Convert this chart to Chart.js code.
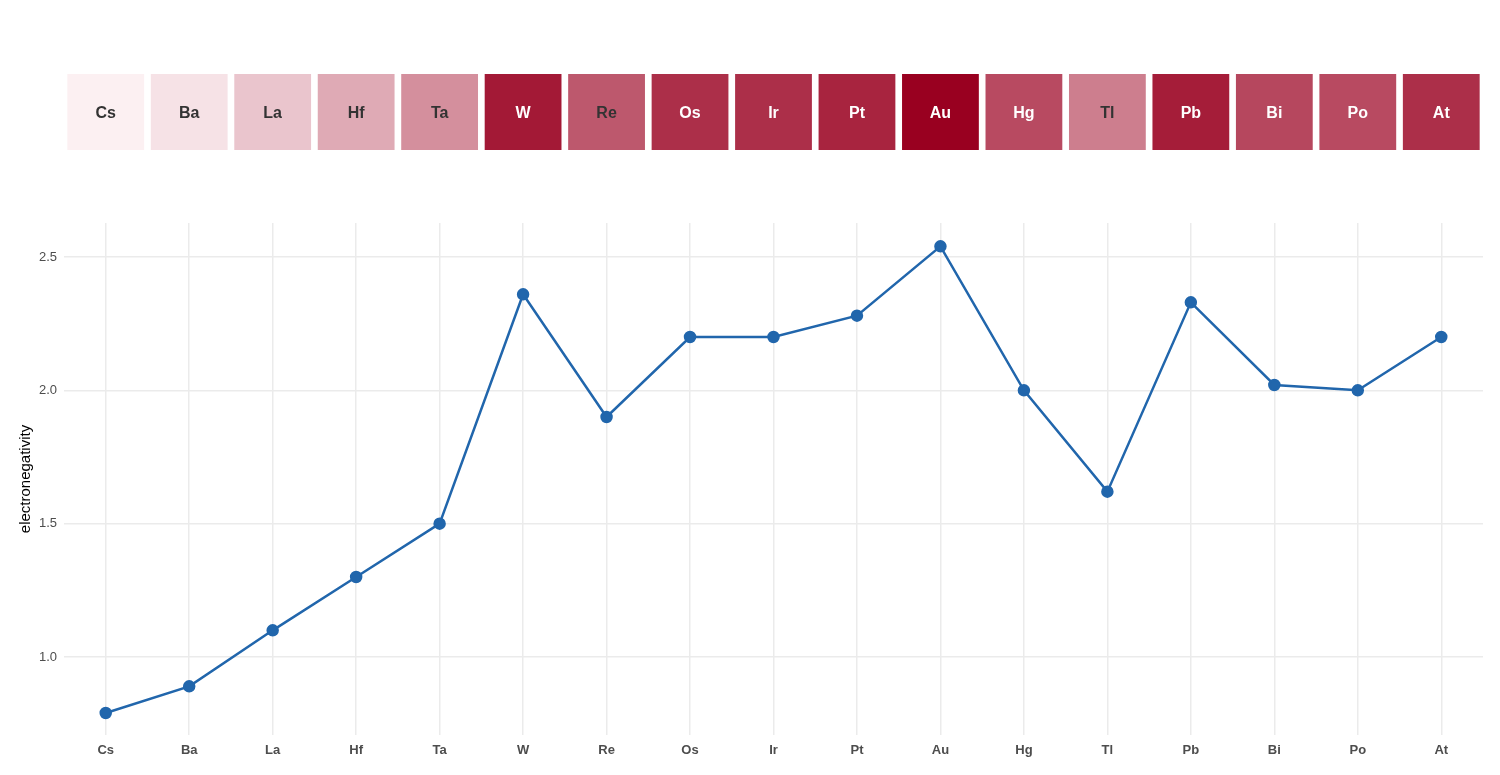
<!DOCTYPE html>
<html>
<head>
<meta charset="utf-8">
<script src="https://cdn.jsdelivr.net/npm/chart.js@4"></script>
<style>
  html, body { margin: 0; padding: 0; background: #fff; }
  #wrap { width: 1500px; height: 775px; }
</style>
</head>
<body>
<div id="wrap"><canvas id="enChart"></canvas></div>
<script>
// Elements of period 6 (Cs..At) and their electronegativity
const elements = ["Cs", "Ba", "La", "Hf", "Ta", "W", "Re", "Os", "Ir", "Pt", "Au", "Hg", "Tl", "Pb", "Bi", "Po", "At"];
const electronegativity = [0.79, 0.89, 1.10, 1.30, 1.50, 2.36, 1.90, 2.20, 2.20, 2.28, 2.54, 2.00, 1.62, 2.33, 2.02, 2.00, 2.20];
const yTicks = [1.0, 1.5, 2.0, 2.5];

// gradient colours for the tiles (low -> high)
const lowColor = [252, 240, 242];
const highColor = [153, 0, 32];

const FONT = "'Liberation Sans', Arial, Helvetica, sans-serif";

function tileColor(v, vmin, vmax) {
  const t = (v - vmin) / (vmax - vmin);
  const c = lowColor.map((lo, i) => Math.round(lo + (highColor[i] - lo) * t));
  return `rgb(${c[0]}, ${c[1]}, ${c[2]})`;
}

// Draw the element tiles above the plot, placed by the x scale
const tilesPlugin = {
  id: "tiles",
  afterDraw(chart) {
    const ctx = chart.ctx;
    const xs = chart.scales.x;
    const vmin = Math.min(...electronegativity);
    const vmax = Math.max(...electronegativity);
    const step = xs.getPixelForValue(1) - xs.getPixelForValue(0);
    const w = step * 0.92;
    const top = 74, h = 76;
    ctx.save();
    elements.forEach((el, i) => {
      const cx = xs.getPixelForValue(i);
      const v = electronegativity[i];
      ctx.fillStyle = tileColor(v, vmin, vmax);
      ctx.fillRect(cx - w / 2, top, w, h);
      ctx.fillStyle = v > 1.95 ? "#ffffff" : "#333333";
      ctx.font = "bold 16px " + FONT;
      ctx.textAlign = "center";
      ctx.textBaseline = "middle";
      ctx.fillText(el, cx, top + h / 2 + 1.5);
    });
    ctx.restore();
  }
};

new Chart(document.getElementById("enChart").getContext("2d"), {
  type: "line",
  data: {
    labels: elements,
    datasets: [{
      label: "electronegativity",
      data: electronegativity,
      borderColor: "#2166ac",
      backgroundColor: "#2166ac",
      borderWidth: 2.5,
      pointRadius: 5,
      pointHoverRadius: 5,
      tension: 0,
      fill: false
    }]
  },
  options: {
    responsive: true,
    maintainAspectRatio: false,
    animation: false,
    layout: { padding: { top: 223, right: 17, left: 0, bottom: 0 } },
    plugins: {
      legend: { display: false },
      tooltip: { enabled: false }
    },
    scales: {
      x: {
        offset: true,
        border: { display: false },
        grid: { color: "#ebebeb", lineWidth: 1.5, drawTicks: false },
        ticks: {
          color: "#4d4d4d",
          padding: 8,
          font: { family: FONT, size: 13, weight: "bold" }
        },
        afterFit(scale) { scale.height = 40; }
      },
      y: {
        min: 0.7075,
        max: 2.6275,
        border: { display: false },
        grid: { color: "#ebebeb", lineWidth: 1.5, drawTicks: false },
        ticks: {
          color: "#4d4d4d",
          padding: 7,
          font: { family: FONT, size: 13 },
          callback: (v) => Number(v).toFixed(1)
        },
        afterBuildTicks(scale) {
          scale.ticks = yTicks.map(v => ({ value: v }));
        },
        title: {
          display: true,
          text: "electronegativity",
          color: "#000000",
          padding: { top: 17, bottom: 0 },
          font: { family: FONT, size: 15 }
        },
        afterFit(scale) { scale.width = 64; }
      }
    }
  },
  plugins: [tilesPlugin]
});
</script>
</body>
</html>
